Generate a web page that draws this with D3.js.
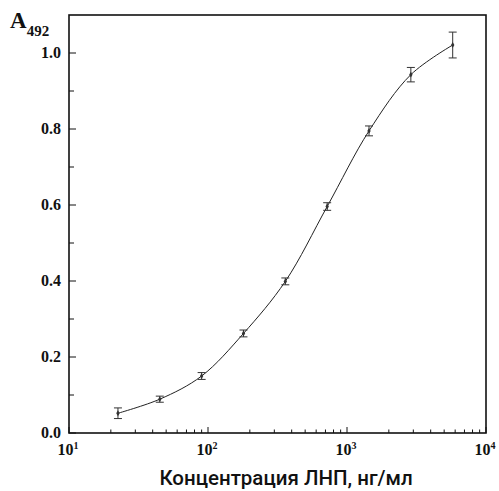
<!DOCTYPE html>
<html lang="ru">
<head>
<meta charset="UTF-8">
<title>A492 vs ЛНП</title>
<script src="https://cdn.jsdelivr.net/npm/d3@7"></script>
<style>
    body{margin:0;background:#fff;}
    .frame{fill:none;stroke:#111;stroke-width:1.6px;}
    .curve{fill:none;stroke:#222;stroke-width:1px;}
    .err{stroke:#333;stroke-width:1px;fill:none;}
</style>
</head>
<body>
<script>
    // concentrations, ng/ml (twofold dilutions)
    var conc = [22.5, 45, 90, 180, 360, 720, 1440, 2880, 5760];
    var absorb = [0.052, 0.089, 0.150, 0.262, 0.399, 0.596, 0.795, 0.943, 1.021];
    var errs = [0.014, 0.008, 0.009, 0.009, 0.009, 0.010, 0.013, 0.019, 0.034];
    var yTicks = [0.0, 0.2, 0.4, 0.6, 0.8, 1.0];
    var xDecades = [10, 100, 1000, 10000];

    var width = 499, height = 491;
    var pad = {left:69, right:13, top:15, bottom:58};
    var serif = "'Liberation Serif','Times New Roman',serif";

    var svg = d3.select("body").append("svg")
        .attr("width", width).attr("height", height);

    var x = d3.scaleLog().domain([10, 10000]).range([pad.left, width - pad.right]);
    var y = d3.scaleLinear().domain([0, 1.1]).range([height - pad.bottom, pad.top]);

    var x0 = pad.left, x1 = width - pad.right, y0 = height - pad.bottom, y1 = pad.top;

    // y ticks (inward), major every 0.2, minor every 0.1
    var yMinor = d3.range(0, 1.01, 0.1);
    svg.selectAll(".ytick").data(yMinor).enter().append("line")
        .attr("x1", x0).attr("x2", function(d, i){ return x0 + (i % 2 === 0 ? 7 : 5); })
        .attr("y1", function(d){ return y(d); }).attr("y2", function(d){ return y(d); })
        .style("stroke", "#111").style("stroke-width", 1);

    svg.selectAll(".ylab").data(yTicks).enter().append("text")
        .attr("x", 61).attr("y", function(d){ return y(d); })
        .attr("dy", "0.34em").attr("text-anchor", "end")
        .style("font-family", serif).style("font-weight", "bold")
        .style("font-size", "16px").style("fill", "#111")
        .text(function(d){ return d.toFixed(1); });

    // x ticks, log minor
    var xMinor = [];
    [10, 100, 1000].forEach(function(dec){
        for (var k = 1; k <= 9; k++) xMinor.push({v: dec * k, major: k === 1});
    });
    xMinor.push({v: 10000, major: true});
    svg.selectAll(".xtick").data(xMinor).enter().append("line")
        .attr("x1", function(d){ return x(d.v); }).attr("x2", function(d){ return x(d.v); })
        .attr("y1", y0).attr("y2", function(d){ return y0 - (d.major ? 6 : 3.5); })
        .style("stroke", "#111").style("stroke-width", 1);

    var xl = svg.selectAll(".xlab").data(xDecades).enter().append("text")
        .attr("x", function(d){ return x(d) - 1; }).attr("y", 455)
        .attr("text-anchor", "middle")
        .style("font-family", serif).style("font-weight", "bold")
        .style("font-size", "16px").style("fill", "#111");
    xl.append("tspan").text("10");
    xl.append("tspan").attr("dy", -6).style("font-size", "10px")
        .text(function(d){ return String(Math.round(Math.log10(d))); });

    // frame
    svg.append("rect").attr("class", "frame")
        .attr("x", x0).attr("y", y1).attr("width", x1 - x0).attr("height", y0 - y1);

    // fitted curve
    var pts = conc.map(function(c, i){ return [c, absorb[i]]; });
    var line = d3.line()
        .x(function(d){ return x(d[0]); })
        .y(function(d){ return y(d[1]); })
        .curve(d3.curveCatmullRom.alpha(0.5));
    svg.append("path").attr("class", "curve").attr("d", line(pts));

    // error bars
    var eb = svg.selectAll(".eb").data(pts).enter().append("g");
    eb.append("line").attr("class", "err")
        .attr("x1", function(d){ return x(d[0]); }).attr("x2", function(d){ return x(d[0]); })
        .attr("y1", function(d, i){ return y(d[1] - errs[i]); })
        .attr("y2", function(d, i){ return y(d[1] + errs[i]); });
    [-1, 1].forEach(function(s){
        eb.append("line").attr("class", "err")
            .attr("x1", function(d){ return x(d[0]) - 4; }).attr("x2", function(d){ return x(d[0]) + 4; })
            .attr("y1", function(d, i){ return y(d[1] + s * errs[i]); })
            .attr("y2", function(d, i){ return y(d[1] + s * errs[i]); });
    });
    eb.append("path")
        .attr("transform", function(d){ return "translate(" + x(d[0]) + "," + y(d[1]) + ")"; })
        .attr("d", d3.symbol().type(d3.symbolDiamond).size(10))
        .style("fill", "#333");

    // axis titles
    var at = svg.append("text")
        .attr("x", 10).attr("y", 28)
        .style("font-family", serif).style("font-weight", "bold")
        .style("fill", "#111");
    at.append("tspan").style("font-size", "23px").text("A");
    at.append("tspan").attr("dy", 8).style("font-size", "15px").text("492");

    svg.append("text")
        .attr("x", 286).attr("y", 485)
        .attr("text-anchor", "middle")
        .style("font-family", "Roboto, sans-serif").style("font-weight", "500")
        .style("font-size", "20.5px").style("fill", "#111")
        .text("Концентрация ЛНП, нг/мл");
</script>
</body>
</html>
